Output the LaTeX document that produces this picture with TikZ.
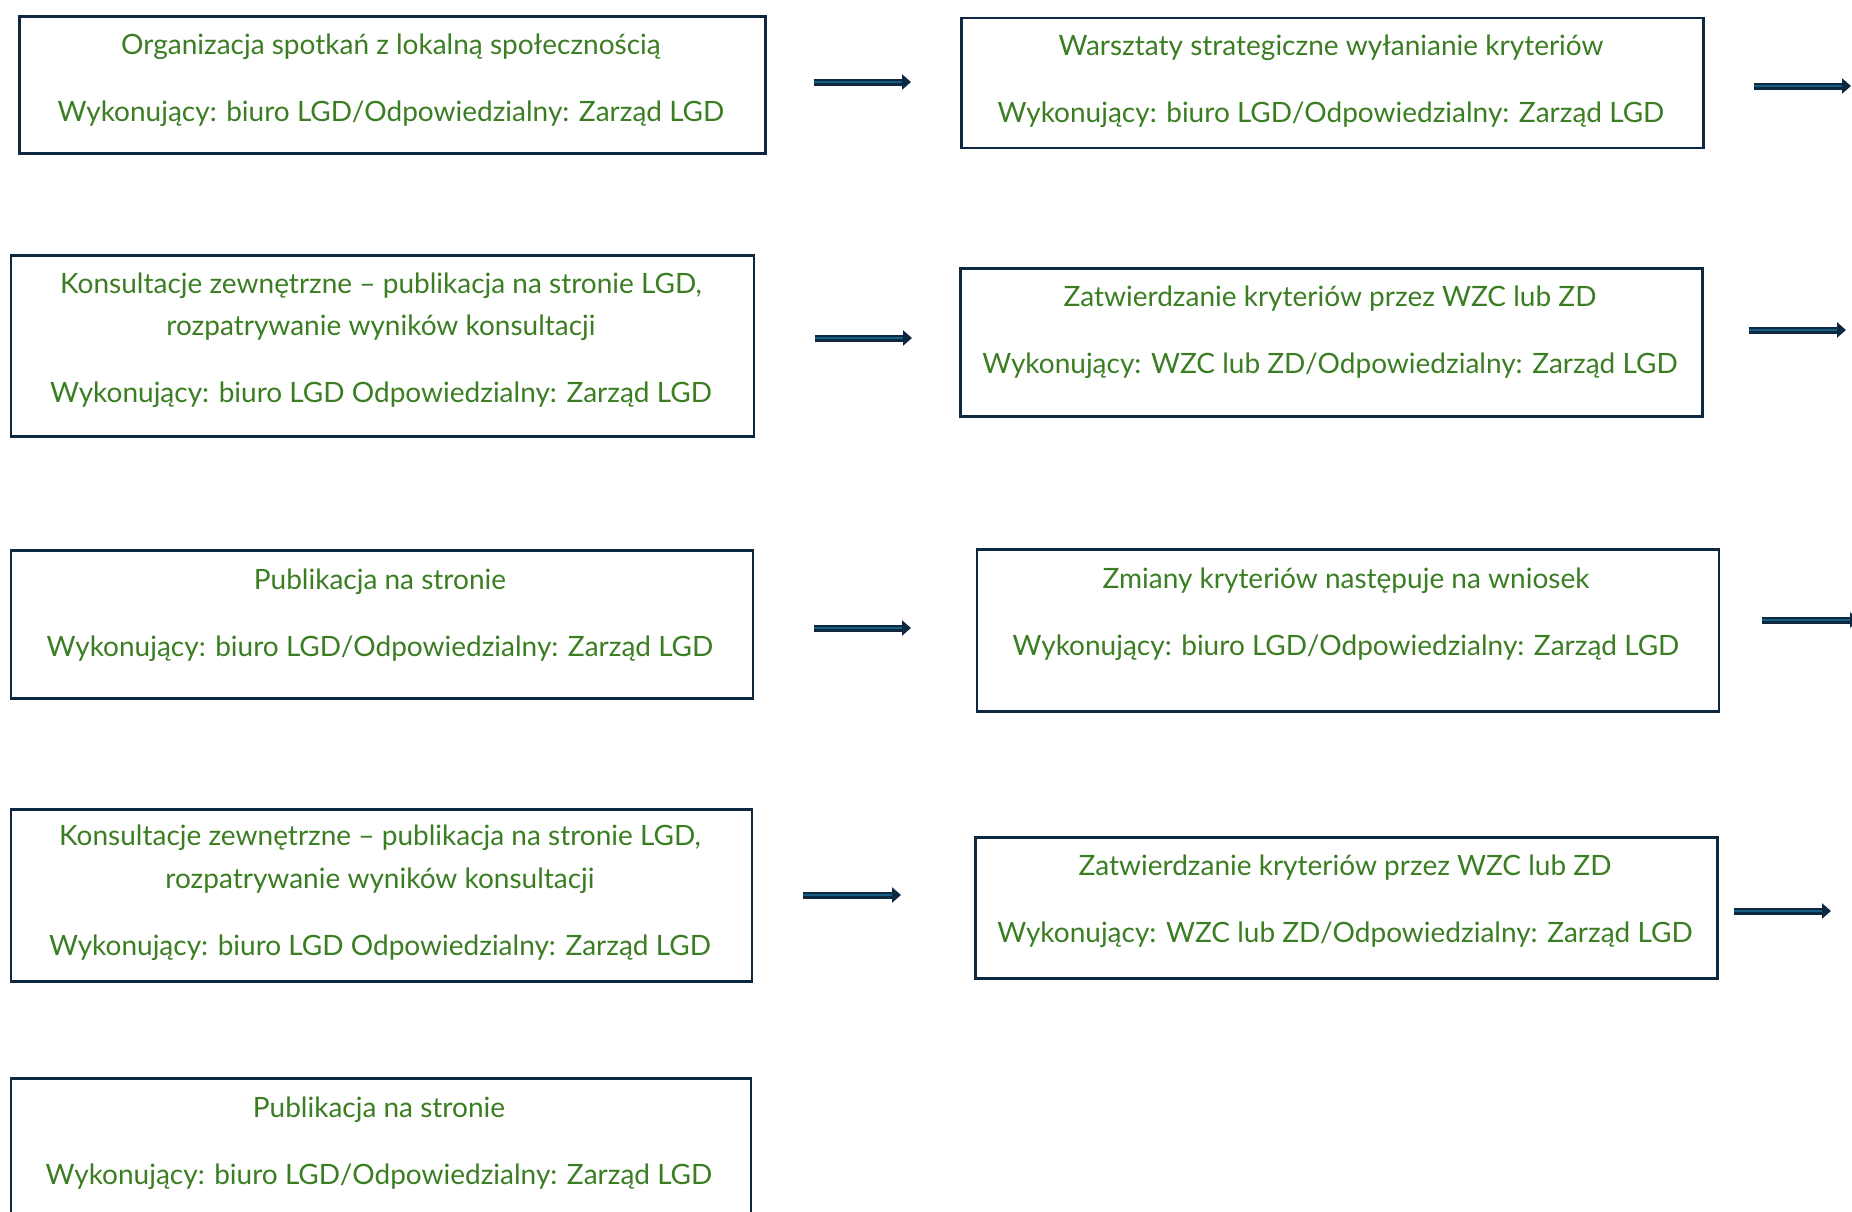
\documentclass[tikz,border=0pt]{standalone}
\usepackage{fontspec}
\setmainfont{Lato}
\usetikzlibrary{arrows.meta}
\definecolor{navy}{HTML}{0E2841}
\definecolor{teal}{HTML}{156082}
\definecolor{txtgreen}{HTML}{3A7D22}
\tikzset{
  box/.style={draw=navy, line width=2.5pt, anchor=north west, inner sep=0pt},
  txt/.style={text=txtgreen, align=center, anchor=base, inner sep=0pt,
    font=\fontsize{28}{42.5}\selectfont},
  arrowout/.style={draw=navy, line width=7pt, -{Triangle[length=9pt,width=15pt]}},
  arrowin/.style={draw=teal, line width=2.5pt, shorten >=9pt},
}
\begin{document}
\begin{tikzpicture}[x=1pt,y=-1pt]
\useasboundingbox (0,0) rectangle (1852,1211);
\begin{scope}
\clip (0,0) rectangle (1852,1211);
% boxes
\node[box, minimum width=746pt, minimum height=137pt] (b1) at (18,15) {};
\node[box, minimum width=742pt, minimum height=130pt] (b2) at (960,16.5) {};
\node[box, minimum width=743pt, minimum height=181pt] (b3) at (9.5,254) {};
\node[box, minimum width=742pt, minimum height=148pt] (b4) at (959,267) {};
\node[box, minimum width=742pt, minimum height=148pt] (b5) at (9.5,549) {};
\node[box, minimum width=742pt, minimum height=162pt] (b6) at (975.5,548) {};
\node[box, minimum width=741pt, minimum height=172pt] (b7) at (9.5,808) {};
\node[box, minimum width=742pt, minimum height=141pt] (b8) at (974,836) {};
\node[box, minimum width=740pt, minimum height=148pt] (b9) at (9.5,1077) {};
\end{scope}
% texts (anchor = baseline of last line)
\node[txt] (t1) at (391,121.3) {Organizacja spotkań z lokalną społecznością\\[24.5pt]Wykonujący: biuro LGD/Odpowiedzialny: Zarząd LGD};
\node[txt] (t2) at (1331,122.7) {Warsztaty strategiczne wyłanianie kryteriów\\[24.5pt]Wykonujący: biuro LGD/Odpowiedzialny: Zarząd LGD};
\node[txt] (t3) at (381,402.6) {Konsultacje zewnętrzne -- publikacja na stronie LGD,\\rozpatrywanie wyników konsultacji\\[24.5pt]Wykonujący: biuro LGD Odpowiedzialny: Zarząd LGD};
\node[txt] (t4) at (1330,373) {Zatwierdzanie kryteriów przez WZC lub ZD\\[24.5pt]Wykonujący: WZC lub ZD/Odpowiedzialny: Zarząd LGD};
\node[txt] (t5) at (380,656.3) {Publikacja na stronie\\[24.5pt]Wykonujący: biuro LGD/Odpowiedzialny: Zarząd LGD};
\node[txt] (t6) at (1346,655.3) {Zmiany kryteriów następuje na wniosek\\[24.5pt]Wykonujący: biuro LGD/Odpowiedzialny: Zarząd LGD};
\node[txt] (t7) at (380,955.3) {Konsultacje zewnętrzne -- publikacja na stronie LGD,\\rozpatrywanie wyników konsultacji\\[24.5pt]Wykonujący: biuro LGD Odpowiedzialny: Zarząd LGD};
\node[txt] (t8) at (1345,942.3) {Zatwierdzanie kryteriów przez WZC lub ZD\\[24.5pt]Wykonujący: WZC lub ZD/Odpowiedzialny: Zarząd LGD};
\node[txt] (t9) at (379,1184.3) {Publikacja na stronie\\[24.5pt]Wykonujący: biuro LGD/Odpowiedzialny: Zarząd LGD};
% arrow coordinates
\coordinate (a1s) at (814,82);  \coordinate (a1e) at (911,82);
\coordinate (a2s) at (1754,86); \coordinate (a2e) at (1851,86);
\coordinate (a3s) at (815,338); \coordinate (a3e) at (912,338);
\coordinate (a4s) at (1749,330); \coordinate (a4e) at (1846,330);
\coordinate (a5s) at (814,628); \coordinate (a5e) at (911,628);
\coordinate (a6s) at (1762,620); \coordinate (a6e) at (1859,620);
\coordinate (a7s) at (803,895); \coordinate (a7e) at (901,895);
\coordinate (a8s) at (1734,911); \coordinate (a8e) at (1831,911);
\begin{scope}
\clip (0,0) rectangle (1852,1211);
\foreach \i in {1,...,8}{
  \draw[arrowout] (a\i s) -- (a\i e);
  \draw[arrowin] (a\i s) -- (a\i e);
}
\end{scope}
\end{tikzpicture}
\end{document}
